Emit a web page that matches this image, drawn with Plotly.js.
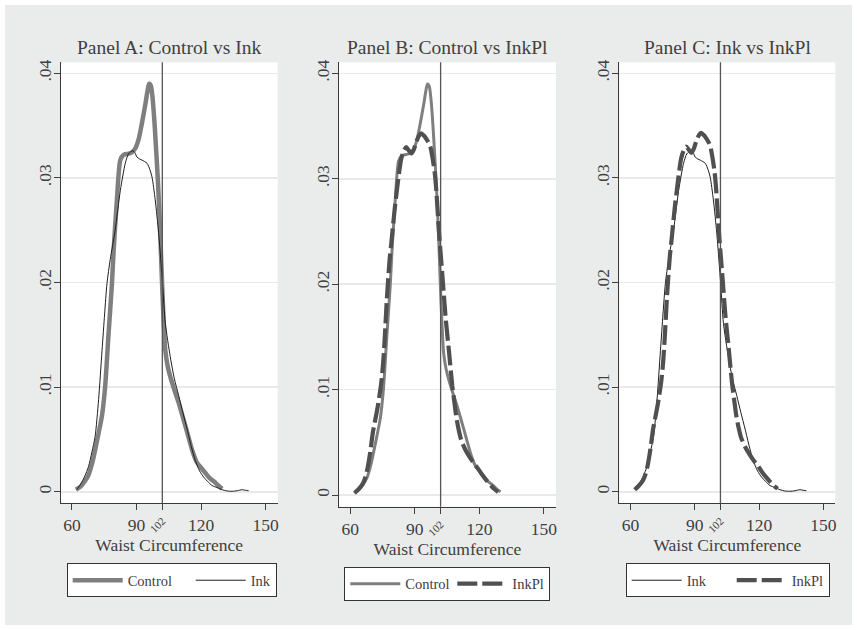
<!DOCTYPE html>
<html>
<head>
<meta charset="utf-8">
<script src="https://cdn.plot.ly/plotly-3.0.1.min.js"></script>
<style>html,body{margin:0;padding:0;background:#fff;}#chart{width:857px;height:630px;}</style>
</head>
<body>
<div id="chart"></div>
<script>
// ---- data ----
const controlX = [61.9,64,66,67.7,69.5,70.8,72.5,74,75.5,77,78.6,79.4,80.9,82.5,84,86,87.5,89.4,91,92.5,94.1,95.2,95.9,96.7,97.5,98.2,98.9,100,101.1,101.6,102.3,103.4,104.5,105.7,107.5,109.6,112,114.2,116,118.1,120,122,124,125.9,128,129.8];
const controlY = [0.0002,0.0005,0.001,0.0016,0.0028,0.004,0.0057,0.0073,0.0102,0.015,0.0199,0.0231,0.0279,0.0317,0.0322,0.0323,0.0324,0.0328,0.0337,0.0352,0.0370,0.0384,0.0390,0.0388,0.0376,0.0358,0.0335,0.0295,0.0244,0.0215,0.0178,0.0135,0.0120,0.0110,0.0098,0.0085,0.0068,0.0052,0.0039,0.0028,0.0023,0.0018,0.0013,0.0010,0.0006,0.0003];

const inkX = [62.3,64,66,67.7,69.3,70.8,72.4,74,75.2,76.3,77.8,80.1,82.5,84.8,86.3,88.2,89.3,90.2,91.5,92.6,94.9,96.2,97.2,98.7,100.3,102.1,103.4,105.7,107.6,109.6,111.5,113.5,115.5,117.3,119.3,121.2,123,125.1,127.5,129.8,132,134.4,136.8,139.1,140.5,142.1];
const inkY = [0.0002,0.0007,0.0015,0.0024,0.0038,0.0053,0.0088,0.0135,0.0170,0.0199,0.0222,0.0250,0.0288,0.0314,0.0323,0.0326,0.0324,0.0320,0.0318,0.0317,0.0314,0.0308,0.0301,0.0279,0.0247,0.0199,0.0161,0.0129,0.0108,0.0092,0.0076,0.0060,0.0043,0.0030,0.0020,0.0014,0.0010,0.0006,0.0004,0.0002,0.00008,0.00005,0.0001,0.0002,0.00015,0.0001];

const inkplX = [62,64,65.9,67.2,68.2,69.4,70.5,72.8,74.4,75.3,76,77,78.3,79.1,80.6,82.1,83.7,85,86,87.2,88.4,89.6,90.7,92,93,94.2,95.3,96.5,97.3,98.4,99.3,100,101.2,101.9,103.1,104.3,105.9,107.4,108.4,109.3,110.4,111.6,113.5,115.5,117.5,119.4,121.4,123.3,125,126.8,128.7];
const inkplY = [0.0002,0.0006,0.0011,0.0018,0.0027,0.0042,0.0059,0.0084,0.0106,0.0125,0.0147,0.0185,0.0223,0.0239,0.0270,0.0296,0.0319,0.0327,0.0330,0.0327,0.0324,0.0328,0.0335,0.0341,0.0343,0.0341,0.0338,0.0334,0.0330,0.0318,0.0305,0.0289,0.0251,0.0232,0.0201,0.0169,0.0136,0.0104,0.0088,0.0074,0.0062,0.0052,0.0043,0.0036,0.0030,0.0025,0.0019,0.0014,0.0010,0.0006,0.0003];

const xTickVals = [60, 90, 120, 150];
const yTickVals = [0, 0.01, 0.02, 0.03, 0.04];
const yTickText = ['0', '.01', '.02', '.03', '.04'];
const cutoff = [102];
const cutoffText = ['102'];
const panelTitles = ['Panel A: Control vs Ink', 'Panel B: Control vs InkPl', 'Panel C: Ink vs InkPl'];
const xTitle = 'Waist Circumference';
const seriesNames = {control: 'Control', ink: 'Ink', inkpl: 'InkPl'};

// ---- styling / layout ----
const W = 857, H = 630;
const FONT = 'Liberation Serif, Times New Roman, serif';
const TXT = '#404040';
const xRange = [54.8, 155.6];
const yRange = [-0.0011, 0.04105];
const px = v => v / W;
const py = v => 1 - v / H;
const panels = [
  {xd: [px(60.7), px(277.7)], yd: [py(503.3), py(62.3)], leg: {x: px(66.7), y: py(563.3)}},
  {xd: [px(339), px(556)],    yd: [py(506.7), py(62.3)], leg: {x: px(344.3), y: py(566.7)}},
  {xd: [px(619.3), px(835.3)], yd: [py(503.3), py(62.3)], leg: {x: px(625.7), y: py(563.3)}}
];

const styles = {
  controlA: {color: '#7f7f7f', width: 4.5},
  controlB: {color: '#7f7f7f', width: 3},
  ink: {color: '#1e1e1e', width: 1},
  inkpl: {color: '#505050', width: 4.2, dash: '20px,5px'}
};

function tr(x, y, name, line, idx, legendName, lw) {
  const s = idx === 0 ? '' : String(idx + 1);
  return {
    type: 'scatter', mode: 'lines', x: x, y: y, name: name,
    xaxis: 'x' + s, yaxis: 'y' + s,
    legend: legendName, legendwidth: lw,
    line: Object.assign({shape: 'spline', smoothing: 0.7}, line),
    hoverinfo: 'skip'
  };
}

const data = [
  tr(controlX, controlY, seriesNames.control, styles.controlA, 0, 'legend', 58),
  tr(inkX, inkY, seriesNames.ink, styles.ink, 0, 'legend', 20),
  tr(controlX, controlY, seriesNames.control, styles.controlB, 1, 'legend2', 42),
  tr(inkplX, inkplY, seriesNames.inkpl, styles.inkpl, 1, 'legend2', 32),
  tr(inkX, inkY, seriesNames.ink, styles.ink, 2, 'legend3', 40),
  tr(inkplX, inkplY, seriesNames.inkpl, styles.inkpl, 2, 'legend3', 32)
];
// empty carriers so the overlay axes (cutoff tick) get drawn
[4, 5, 6].forEach((n, i) => {
  data.push({type: 'scatter', mode: 'lines', x: [], y: [], xaxis: 'x' + n,
    yaxis: i === 0 ? 'y' : 'y' + (i + 1), showlegend: false, hoverinfo: 'skip'});
});

const layout = {
  width: W, height: H,
  margin: {l: 0, r: 0, t: 0, b: 0, pad: 0},
  paper_bgcolor: '#eaeceb',
  plot_bgcolor: '#ffffff',
  font: {family: FONT, color: TXT, size: 14},
  showlegend: true,
  annotations: [],
  shapes: []
};

panels.forEach((p, i) => {
  const s = i === 0 ? '' : String(i + 1);
  const ys = 'y' + s;
  layout['xaxis' + s] = {
    domain: p.xd, range: xRange, anchor: ys,
    tickmode: 'array', tickvals: xTickVals,
    ticks: 'outside', ticklen: 6, tickcolor: TXT, tickwidth: 1,
    tickfont: {size: 17.5, color: TXT, family: FONT},
    showline: true, linecolor: '#3a3a3a', linewidth: 1,
    showgrid: false, zeroline: false, automargin: false,
    title: {text: xTitle, font: {size: 17.5, color: TXT, family: FONT}, standoff: 3}
  };
  layout['yaxis' + s] = {
    domain: p.yd, range: yRange, anchor: 'x' + s,
    tickmode: 'array', tickvals: yTickVals, ticktext: yTickText,
    tickangle: -90, ticklabelstandoff: -4,
    ticks: 'outside', ticklen: 6, tickcolor: TXT, tickwidth: 1,
    tickfont: {size: 17.5, color: TXT, family: FONT},
    showline: true, linecolor: '#3a3a3a', linewidth: 1,
    showgrid: true, gridcolor: '#e9e9e9', gridwidth: 1.5,
    zeroline: false, automargin: false
  };
  // overlay axis carrying the 102 cutoff tick
  layout['xaxis' + (i + 4)] = {
    overlaying: 'x' + s, anchor: ys, side: 'bottom', range: xRange,
    tickmode: 'array', tickvals: cutoff, ticktext: cutoffText,
    tickangle: -45, ticks: 'outside', ticklen: 6, tickcolor: TXT, tickwidth: 1,
    tickfont: {size: 11, color: TXT, family: FONT},
    showline: false, showgrid: false, zeroline: false, automargin: false
  };
  const legName = i === 0 ? 'legend' : 'legend' + (i + 1);
  layout[legName] = {
    orientation: 'h', x: p.leg.x, y: p.leg.y, xanchor: 'left', yanchor: 'top',
    bgcolor: '#ffffff', bordercolor: '#333333', borderwidth: 1,
    font: {size: 14.5, color: TXT, family: FONT},
    itemwidth: 50, tracegroupgap: 0
  };
  layout.annotations.push({
    xref: 'paper', yref: 'paper', x: (p.xd[0] + p.xd[1]) / 2, y: py(48),
    xanchor: 'center', yanchor: 'middle', showarrow: false,
    text: panelTitles[i], font: {size: 19.5, color: TXT, family: FONT}
  });
  layout.shapes.push({
    type: 'line', xref: 'x' + s, yref: ys + ' domain',
    x0: cutoff[0], x1: cutoff[0], y0: 0, y1: 1,
    line: {color: '#555555', width: 1.3}, layer: 'above'
  });
});

// white outer frame
layout.shapes.push({
  type: 'rect', xref: 'paper', yref: 'paper', x0: 0, x1: 1, y0: 0, y1: 1,
  line: {color: '#ffffff', width: 10}, fillcolor: 'rgba(0,0,0,0)', layer: 'above'
});

Plotly.newPlot('chart', data, layout, {displayModeBar: false, staticPlot: true});
</script>
</body>
</html>
